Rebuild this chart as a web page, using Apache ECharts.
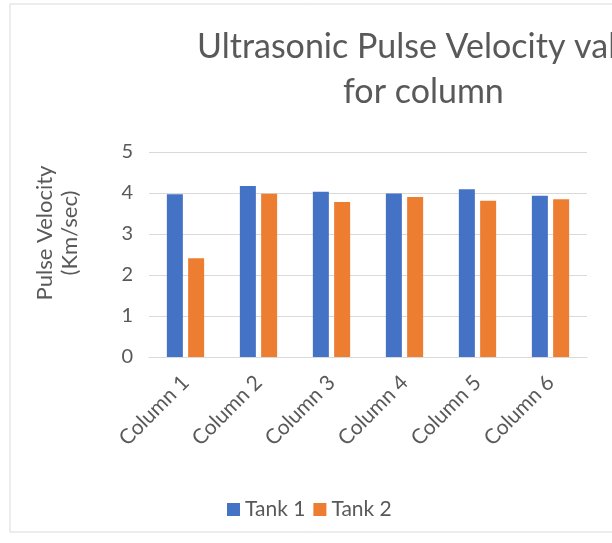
<!DOCTYPE html>
<html>
<head>
<meta charset="utf-8">
<script src="https://cdn.jsdelivr.net/npm/echarts@6/dist/echarts.min.js"></script>
<style>
  html, body { margin: 0; padding: 0; background: #ffffff; }
  #chart { width: 612px; height: 543px; }
</style>
</head>
<body>
<div id="chart"></div>
<script>
// Categories and measured pulse velocities (km/sec)
const categories = ['Column 1', 'Column 2', 'Column 3', 'Column 4', 'Column 5', 'Column 6'];
const tank1 = [3.97, 4.17, 4.03, 3.99, 4.09, 3.93];
const tank2 = [2.41, 3.98, 3.78, 3.90, 3.81, 3.85];
const seriesNames = ['Tank 1', 'Tank 2'];
const yTicks = [0, 1, 2, 3, 4, 5];

const FONT = 'Lato, "Noto Sans", sans-serif';
const TEXT = '#595959';
const GRID = '#d9d9d9';

const chart = echarts.init(document.getElementById('chart'), null, { renderer: 'canvas' });

chart.setOption({
  backgroundColor: '#ffffff',
  animation: false,
  title: [
    {
      text: 'Ultrasonic Pulse Velocity values',
      left: 197, top: 30, padding: 0,
      textStyle: { fontFamily: FONT, fontSize: 34, fontWeight: 'normal', color: TEXT }
    },
    {
      text: 'for column',
      left: 343, top: 75, padding: 0,
      textStyle: { fontFamily: FONT, fontSize: 34, fontWeight: 'normal', color: TEXT }
    }
  ],
  graphic: [
    {
      type: 'rect', silent: true, z: -10,
      shape: { x: 10, y: 4, width: 700, height: 528 },
      style: { fill: 'none', stroke: GRID, lineWidth: 1 }
    },
    {
      type: 'text', x: 45, y: 233, rotation: Math.PI / 2,
      style: {
        text: 'Pulse Velocity', fill: TEXT, font: '22px ' + FONT,
        textAlign: 'center', textVerticalAlign: 'middle'
      }
    },
    {
      type: 'text', x: 70, y: 233, rotation: Math.PI / 2,
      style: {
        text: '(Km/sec)', fill: TEXT, font: '22px ' + FONT,
        textAlign: 'center', textVerticalAlign: 'middle'
      }
    }
  ],
  legend: {
    data: seriesNames,
    left: 222, top: 494,
    icon: 'rect', itemWidth: 13, itemHeight: 13, itemGap: 8,
    textStyle: { fontFamily: FONT, fontSize: 21, color: TEXT }
  },
  grid: { left: 149, right: 25, top: 152, bottom: 186, containLabel: false },
  xAxis: {
    type: 'category',
    data: categories,
    axisLine: { show: true, lineStyle: { color: GRID, width: 1 } },
    axisTick: { show: false },
    axisLabel: {
      rotate: 45, margin: 22, interval: 0,
      fontFamily: FONT, fontSize: 21, color: TEXT,
      padding: [0, 0, 0, 12]
    }
  },
  yAxis: {
    type: 'value',
    min: yTicks[0], max: yTicks[yTicks.length - 1], interval: 1,
    axisLine: { show: false },
    axisTick: { show: false },
    splitLine: { lineStyle: { color: GRID, width: 1 } },
    axisLabel: { margin: 16, fontFamily: FONT, fontSize: 20, color: TEXT }
  },
  series: [
    {
      name: seriesNames[0], type: 'bar', data: tank1,
      barWidth: 16, barGap: '33%',
      itemStyle: { color: '#4472C4' }
    },
    {
      name: seriesNames[1], type: 'bar', data: tank2,
      barWidth: 16, barGap: '33%',
      itemStyle: { color: '#ED7D31' }
    }
  ]
});
</script>
</body>
</html>
